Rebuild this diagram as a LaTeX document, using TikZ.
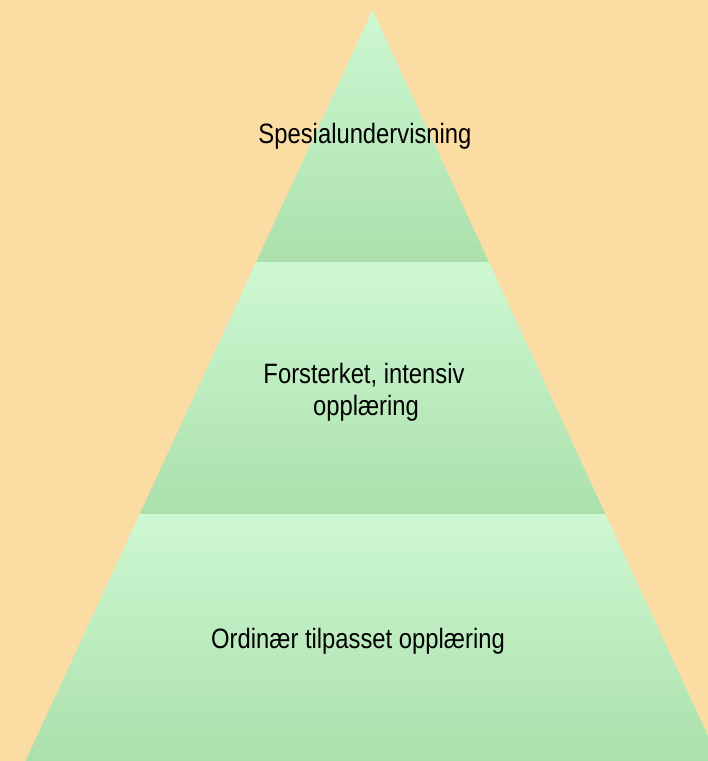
\documentclass[tikz,border=0pt]{standalone}
\usepackage{fontspec}
\setmainfont{Liberation Sans}
\definecolor{bgc}{RGB}{251,220,163}
\definecolor{tiertop}{RGB}{206,248,210}
\definecolor{tierbot}{RGB}{171,224,172}
\tikzset{
  tier/.style={top color=tiertop, bottom color=tierbot, draw=none},
  lbl/.style={anchor=base, inner sep=0pt, font=\fontsize{28}{32}\selectfont, text=black}
}
\newcommand{\sq}[1]{\scalebox{0.85}[1]{#1}}
\begin{document}
\begin{tikzpicture}[x=1pt,y=-1pt]
\useasboundingbox (0,0) rectangle (708,761);
\clip (0,0) rectangle (708,761);
\fill[bgc] (0,0) rectangle (708,761);
% tiers
\shade[tier] (372.5,10) -- (488.9,262) -- (256.1,262) -- cycle;
\shade[tier] (256.1,262) -- (488.9,262) -- (605.3,514) -- (139.7,514) -- cycle;
\shade[tier] (139.7,514) -- (605.3,514) -- (719.5,761) -- (25.5,761) -- cycle;
% labels
\node[lbl] (top) at (365,143) {\sq{Spesialundervisning}};
\node[lbl] (mid1) at (364,383) {\sq{Forsterket, intensiv}};
\node[lbl] (mid2) at (366,415) {\sq{opplæring}};
\node[lbl] (bot) at (358,648) {\sq{Ordinær tilpasset opplæring}};
\end{tikzpicture}
\end{document}
